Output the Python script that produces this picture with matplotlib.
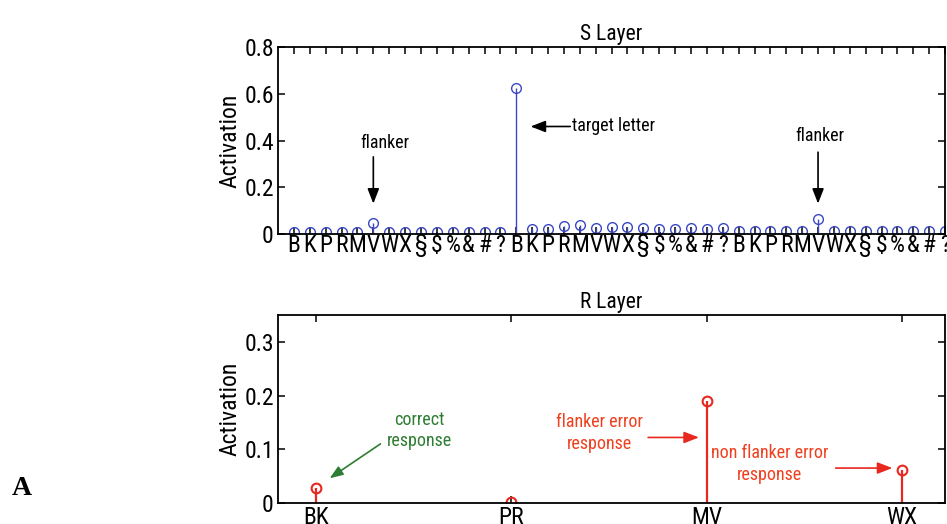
import numpy as np
from matplotlib import pyplot as plt

# S layer: 14 symbols repeated 3 times
symbols = ["B", "K", "P", "R", "M", "V", "W", "X", "\u00a7", "$", "%", "&", "#", "?"]
s_labels = symbols * 3
s_values = [0.01, 0.01, 0.01, 0.01, 0.01, 0.048, 0.01, 0.01, 0.01, 0.01, 0.01, 0.01, 0.01, 0.01,
            0.625, 0.02, 0.02, 0.033, 0.039, 0.026, 0.03, 0.03, 0.026, 0.022, 0.022, 0.024, 0.022, 0.026,
            0.012, 0.012, 0.012, 0.012, 0.012, 0.065, 0.012, 0.012, 0.012, 0.012, 0.012, 0.012, 0.012, 0.012]

# R layer
r_labels = ["BK", "PR", "MV", "WX"]
r_values = [0.028, 0.002, 0.19, 0.062]

blue = "#3a48c4"
red = "#e8271f"
red_txt = "#f0401e"
green = "#2e7d32"

plt.rcParams['font.family'] = ['Roboto Condensed', 'DejaVu Sans']
fs = 17
afs = 13

fig = plt.figure(figsize=(9.47, 5.24), dpi=100)
ax1 = fig.add_axes([0.2936, 0.5534, 0.7044, 0.3569])
ax2 = fig.add_axes([0.2936, 0.0401, 0.7044, 0.3588])

def style(ax):
    for sp in ax.spines.values():
        sp.set_linewidth(1.3)
    ax.tick_params(direction='in', length=5, width=1.1, top=True, right=True, labelsize=fs, pad=3)

# S layer
xs = np.arange(1, len(s_values) + 1)
ml, sl, bl = ax1.stem(xs, s_values, basefmt=" ")
plt.setp(sl, color=blue, linewidth=1.0)
plt.setp(ml, color=blue, markerfacecolor='none', markersize=7, markeredgewidth=1.0)
ax1.set_xlim(0, 42)
ax1.set_ylim(0, 0.8)
ax1.set_xticks(xs)
ax1.set_xticklabels(s_labels)
ax1.set_yticks([0, 0.2, 0.4, 0.6, 0.8])
ax1.set_yticklabels(["0", "0.2", "0.4", "0.6", "0.8"])
style(ax1)
ax1.tick_params(axis='x', pad=0)
ax1.set_title("S Layer", fontsize=15.5, pad=5)
ax1.set_ylabel("Activation", fontsize=fs, labelpad=2)

arrow_k = dict(arrowstyle='-|>,head_width=0.35,head_length=0.9', color='black', lw=1.2, shrinkA=0, shrinkB=0)
ax1.annotate("", xy=(6, 0.13), xytext=(6, 0.33), arrowprops=arrow_k)
ax1.text(6.7, 0.39, "flanker", ha='center', va='center', fontsize=afs)
ax1.annotate("", xy=(15.9, 0.46), xytext=(18.4, 0.46), arrowprops=arrow_k)
ax1.text(18.5, 0.46, "target letter", ha='left', va='center', fontsize=afs)
ax1.annotate("", xy=(34, 0.13), xytext=(34, 0.35), arrowprops=arrow_k)
ax1.text(34.1, 0.42, "flanker", ha='center', va='center', fontsize=afs)

# R layer
xr = np.arange(1, len(r_values) + 1)
ml, sl, bl = ax2.stem(xr, r_values, basefmt=" ")
plt.setp(sl, color=red, linewidth=1.6)
plt.setp(ml, color=red, markerfacecolor='none', markersize=7, markeredgewidth=1.5)
ax2.set_xlim(0.806, 4.22)
ax2.set_ylim(0, 0.35)
ax2.set_xticks(xr)
ax2.set_xticklabels(r_labels)
ax2.set_yticks([0, 0.1, 0.2, 0.3])
ax2.set_yticklabels(["0", "0.1", "0.2", "0.3"])
style(ax2)
ax2.tick_params(axis='x', pad=2)
ax2.set_title("R Layer", fontsize=15.5, pad=5)
ax2.set_ylabel("Activation", fontsize=fs, labelpad=2)

ax2.text(1.53, 0.135, "correct\nresponse", color=green, ha='center', va='center', fontsize=afs, linespacing=1.25)
ax2.annotate("", xy=(1.07, 0.046), xytext=(1.33, 0.11),
             arrowprops=dict(arrowstyle='-|>,head_width=0.3,head_length=0.8', color=green, lw=1.2, shrinkA=0, shrinkB=0))
ax2.text(2.45, 0.13, "flanker error\nresponse", color=red_txt, ha='center', va='center', fontsize=afs, linespacing=1.25)
ax2.annotate("", xy=(2.96, 0.122), xytext=(2.7, 0.122),
             arrowprops=dict(arrowstyle='-|>,head_width=0.35,head_length=0.9', color=red, lw=1.2, shrinkA=0, shrinkB=0))
ax2.text(3.32, 0.073, "non flanker error\nresponse", color=red_txt, ha='center', va='center', fontsize=afs, linespacing=1.25)
ax2.annotate("", xy=(3.95, 0.065), xytext=(3.66, 0.065),
             arrowprops=dict(arrowstyle='-|>,head_width=0.35,head_length=0.9', color=red, lw=1.2, shrinkA=0, shrinkB=0))

fig.text(0.012, 0.068, "A", family=['Liberation Serif', 'DejaVu Serif'], fontweight='bold', fontsize=20, ha='left', va='center')

plt.savefig("out.png", dpi=100)
